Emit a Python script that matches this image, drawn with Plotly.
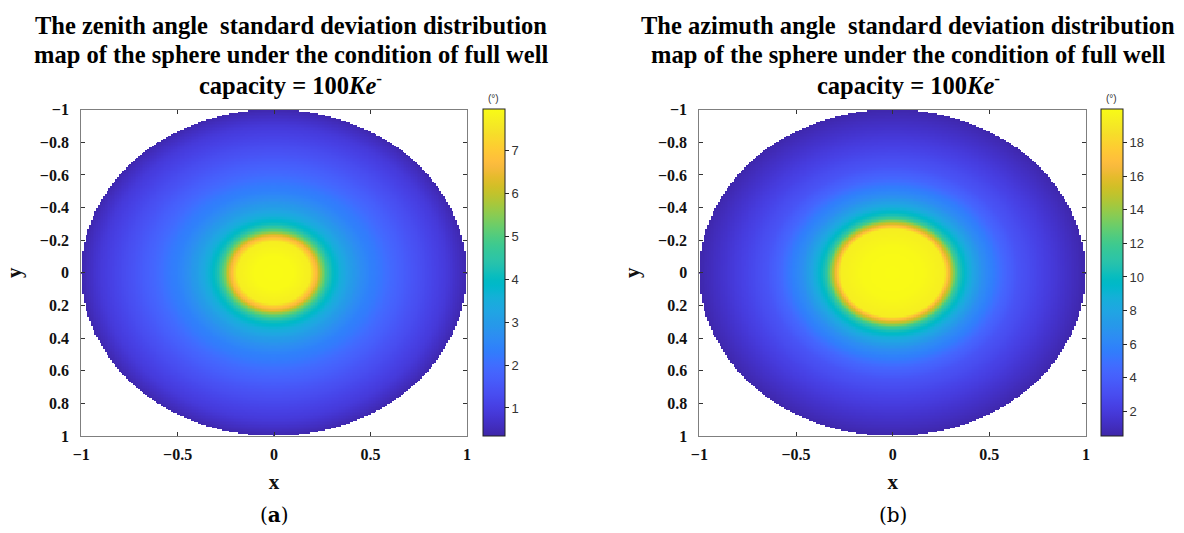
import numpy as np
import plotly.graph_objects as go

W, H = 1184, 533

# ---- values (radial profiles, r = sqrt(x^2+y^2)) ----
radius_samples = [0.00, 0.10, 0.19, 0.21, 0.23, 0.25, 0.27, 0.29, 0.32, 0.35,
                  0.40, 0.45, 0.50, 0.55, 0.60, 0.70, 0.80, 0.90, 1.00]
zenith_sd = [7.97, 7.95, 7.70, 7.00, 6.40, 5.50, 4.90, 4.30, 3.85, 3.50,
             3.05, 2.70, 2.40, 2.20, 1.95, 1.55, 1.20, 0.87, 0.40]

radius_samples_b = [0.00, 0.15, 0.27, 0.29, 0.31, 0.33, 0.35, 0.38, 0.42, 0.47,
                    0.52, 0.58, 0.65, 0.75, 0.85, 1.00]
azimuth_sd = [20.0, 19.9, 19.3, 16.5, 14.5, 12.2, 10.6, 9.3, 7.9, 6.5,
              5.6, 4.4, 3.4, 2.5, 1.7, 0.6]

zenith_ticks = [1, 2, 3, 4, 5, 6, 7]
azimuth_ticks = [2, 4, 6, 8, 10, 12, 14, 16, 18]
x_ticks = [-1, -0.5, 0, 0.5, 1]
y_ticks = [-1, -0.8, -0.6, -0.4, -0.2, 0, 0.2, 0.4, 0.6, 0.8, 1]

title_a = ["The zenith angle  standard deviation distribution",
           "map of the sphere under the condition of full well",
           "capacity = 100<i>Ke</i><sup>-</sup>"]
title_b = ["The azimuth angle  standard deviation distribution",
           "map of the sphere under the condition of full well",
           "capacity = 100<i>Ke</i><sup>-</sup>"]

# parula colormap
parula = [
    (0.2422, 0.1504, 0.6603), (0.2504, 0.1650, 0.7076), (0.2578, 0.1818, 0.7511),
    (0.2647, 0.1978, 0.7952), (0.2706, 0.2147, 0.8364), (0.2751, 0.2342, 0.8710),
    (0.2783, 0.2559, 0.8991), (0.2803, 0.2782, 0.9221), (0.2813, 0.3006, 0.9414),
    (0.2810, 0.3228, 0.9579), (0.2795, 0.3447, 0.9717), (0.2760, 0.3667, 0.9829),
    (0.2699, 0.3892, 0.9906), (0.2602, 0.4123, 0.9952), (0.2440, 0.4358, 0.9988),
    (0.2206, 0.4603, 0.9973), (0.1963, 0.4847, 0.9892), (0.1834, 0.5074, 0.9798),
    (0.1786, 0.5289, 0.9682), (0.1764, 0.5499, 0.9520), (0.1687, 0.5703, 0.9359),
    (0.1540, 0.5902, 0.9218), (0.1460, 0.6091, 0.9079), (0.1380, 0.6276, 0.8973),
    (0.1248, 0.6459, 0.8883), (0.1113, 0.6635, 0.8763), (0.0952, 0.6798, 0.8598),
    (0.0689, 0.6948, 0.8394), (0.0297, 0.7082, 0.8163), (0.0036, 0.7203, 0.7917),
    (0.0067, 0.7312, 0.7660), (0.0433, 0.7411, 0.7394), (0.0964, 0.7500, 0.7120),
    (0.1408, 0.7584, 0.6842), (0.1717, 0.7670, 0.6554), (0.1938, 0.7758, 0.6251),
    (0.2161, 0.7843, 0.5923), (0.2470, 0.7918, 0.5567), (0.2906, 0.7973, 0.5188),
    (0.3406, 0.8008, 0.4789), (0.3909, 0.8029, 0.4354), (0.4456, 0.8024, 0.3909),
    (0.5044, 0.7993, 0.3480), (0.5616, 0.7942, 0.3045), (0.6174, 0.7876, 0.2612),
    (0.6720, 0.7793, 0.2227), (0.7242, 0.7698, 0.1910), (0.7738, 0.7598, 0.1646),
    (0.8203, 0.7498, 0.1535), (0.8634, 0.7406, 0.1596), (0.9035, 0.7330, 0.1774),
    (0.9393, 0.7288, 0.2100), (0.9728, 0.7298, 0.2394), (0.9956, 0.7434, 0.2371),
    (0.9970, 0.7659, 0.2199), (0.9952, 0.7893, 0.2028), (0.9892, 0.8136, 0.1885),
    (0.9786, 0.8386, 0.1766), (0.9676, 0.8639, 0.1643), (0.9610, 0.8890, 0.1537),
    (0.9597, 0.9135, 0.1423), (0.9628, 0.9373, 0.1265), (0.9691, 0.9606, 0.1064),
    (0.9769, 0.9839, 0.0805)]
colorscale = [[i / (len(parula) - 1),
               "rgb(%d,%d,%d)" % tuple(round(c * 255) for c in col)]
              for i, col in enumerate(parula)]

# grid on the unit disk
grid = np.linspace(-1, 1, 221)
gx, gy = np.meshgrid(grid, grid)
rr = np.sqrt(gx ** 2 + gy ** 2)
inside = rr <= 1.0
za = np.where(inside, np.interp(rr, radius_samples, zenith_sd), np.nan)
zb = np.where(inside, np.interp(rr, radius_samples_b, azimuth_sd), np.nan)

# layout geometry (pixels)
ytop, ybot = 105, 442
panels = [
    dict(x0=73, x1=463, cbx=479, z=za, cmin=0.34, cmax=7.97, ticks=zenith_ticks,
         title=title_a, tcx=285, cap="(<b>a</b>)"),
    dict(x0=698, x1=1089, cbx=1104, z=zb, cmin=0.5, cmax=20.0, ticks=azimuth_ticks,
         title=title_b, tcx=909, cap="(b)"),
]
title_rows = [18, 48.5, 78]

fig = go.Figure()
serif = "Liberation Serif, Times New Roman, serif"
sans = "Liberation Sans, Arial, sans-serif"
annotations = []
for i, p in enumerate(panels):
    xa = "x" if i == 0 else "x2"
    ya = "y" if i == 0 else "y2"
    fig.add_trace(go.Heatmap(
        x=grid, y=grid, z=p["z"], xaxis=xa, yaxis=ya,
        colorscale=colorscale, zmin=p["cmin"], zmax=p["cmax"],
        hoverongaps=False,
        colorbar=dict(
            x=p["cbx"] / W, xanchor="left", xpad=0, ypad=0,
            y=1 - (ytop + ybot) / 2 / H, yanchor="middle",
            len=(ybot - ytop + 1) / H, lenmode="fraction",
            thickness=22, thicknessmode="pixels",
            outlinecolor="#222", outlinewidth=1,
            tickvals=p["ticks"], ticks="outside", ticklen=4, tickcolor="#222",
            tickfont=dict(family=sans, size=13, color="#333"),
        ),
    ))
    axkey = "" if i == 0 else "2"
    common = dict(showgrid=False, zeroline=False, showline=True, linecolor="#7f7f7f",
                  linewidth=1, mirror="ticks", ticks="inside", ticklen=4,
                  tickcolor="#333", tickwidth=1,
                  tickfont=dict(family=serif, size=16, color="#111", weight="bold"))
    fig.update_layout(**{
        "xaxis" + axkey: dict(common, domain=[p["x0"] / W, p["x1"] / W], range=[-1, 1],
                             tickvals=x_ticks, anchor=ya, ticklabelstandoff=4,
                             title=dict(text="x", standoff=12,
                                        font=dict(family=serif, size=21, color="#111", weight="bold"))),
        "yaxis" + axkey: dict(common, domain=[1 - ybot / H, 1 - ytop / H], range=[1, -1],
                             tickvals=y_ticks, anchor=xa, ticklabelstandoff=8,
                             title=dict(text="y", standoff=12,
                                        font=dict(family=serif, size=21, color="#111", weight="bold"))),
    })
    for k, line in enumerate(p["title"]):
        annotations.append(dict(
            text="<b>" + line + "</b>", x=p["tcx"] / W, y=1 - title_rows[k] / H,
            xref="paper", yref="paper", xanchor="center", yanchor="middle",
            showarrow=False, font=dict(family=serif, size=24.5, color="#000")))
    annotations.append(dict(
        text="(°)", x=(p["cbx"] + 11) / W, y=1 - 93 / H,
        xref="paper", yref="paper", xanchor="center", yanchor="middle",
        showarrow=False, font=dict(family=sans, size=10, color="#333")))
    annotations.append(dict(
        text=p["cap"], x=(p["x0"] + p["x1"]) / 2 / W, y=1 - 524 / H,
        xref="paper", yref="paper", xanchor="center", yanchor="middle",
        showarrow=False, font=dict(family="DejaVu Serif, serif", size=20, color="#000")))

fig.update_layout(
    width=W, height=H, margin=dict(l=0, r=0, t=0, b=0),
    paper_bgcolor="white", plot_bgcolor="white",
    annotations=annotations, showlegend=False,
)

fig.write_html("out.html")
